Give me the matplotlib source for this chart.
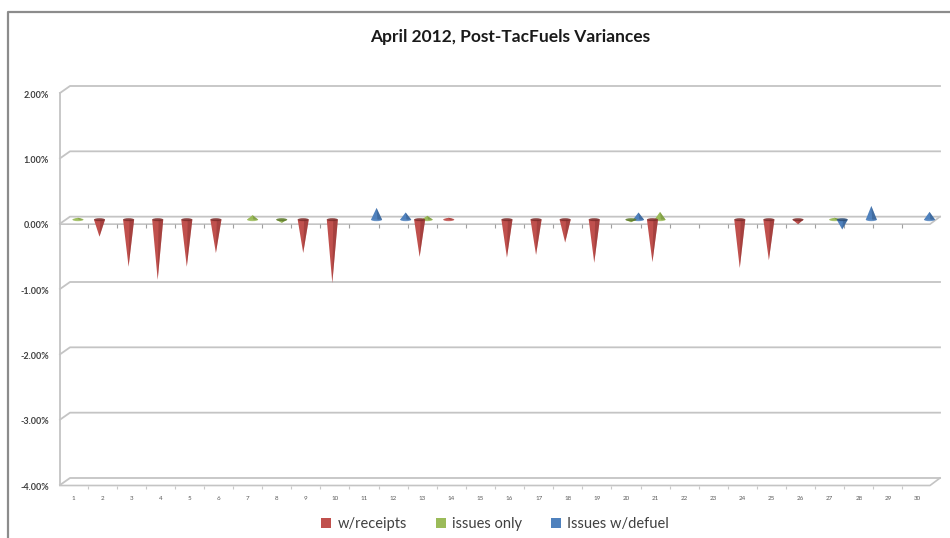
import matplotlib
matplotlib.use("Agg")
import matplotlib.pyplot as plt
from matplotlib.patches import Polygon, Ellipse, Patch
from matplotlib.lines import Line2D
from matplotlib.transforms import ScaledTranslation
import numpy as np

plt.rcParams['font.family'] = ['Lato', 'DejaVu Sans']

# data, in percent
days = list(range(1, 31))
w_receipts = [0, -0.26, -0.72, -0.92, -0.72, -0.51, 0, 0, -0.51, -0.97,
              0, 0, -0.57, 0.03, 0, -0.58, -0.54, -0.35, -0.66, 0,
              -0.65, 0, 0, -0.74, -0.62, -0.07, 0, 0, 0, 0]
issues_only = [0.03, 0, 0, 0, 0, 0, 0.07, -0.05, 0, 0,
               0, 0, 0.06, 0, 0, 0, 0, 0, 0, -0.04,
               0.12, 0, 0, 0, 0, 0, 0.03, 0, 0, 0]
issues_defuel = [0, 0, 0, 0, 0, 0, 0, 0, 0, 0,
                 0.18, 0.11, 0, 0, 0, 0, 0, 0, 0, 0.11,
                 0, 0, 0, 0, 0, 0, -0.15, 0.21, 0, 0.12]
y_ticks = [2, 1, 0, -1, -2, -3, -4]

series = [("w/receipts", w_receipts, "#C0504D", "#7E2C2A", -0.09),
          ("issues only", issues_only, "#9BBB59", "#5E7A2C", 0.17),
          ("Issues w/defuel", issues_defuel, "#4F81BD", "#2C4D75", 0.43)]

W, H = 950, 538
fig = plt.figure(figsize=(9.5, 5.38), dpi=100)
ax = fig.add_axes([70 / W, 1 - 478 / H, 870 / W, 392 / H])
ax.set_xlim(0.897, 30.79)
ax.set_ylim(-4, 2)
ax.axis('off')

PX_X = (30.79 - 0.897) / 870.0
PX_Y = 6.0 / 392.0
x0, x1 = ax.get_xlim()
grid_c = "#C4C4C4"

# back-wall gridlines, left jog and labels
for v in y_ticks:
    ax.plot([x0 - 10 * PX_X, x0, x1], [v - 7 * PX_Y, v, v], color=grid_c,
            lw=1.3, clip_on=False, zorder=1)
    ax.text(x0 - 21 * PX_X, v - 9 * PX_Y, f"{v:.2f}%", ha='right', va='center',
            fontsize=6.5, fontweight='bold', color='#404040')
# left wall
ax.plot([x0 - 10 * PX_X] * 2, [2 - 7 * PX_Y, -4 - 7 * PX_Y], color=grid_c, lw=1.3,
        clip_on=False, zorder=1)

# front edge of the zero plane and the floor
for v in (0, -4):
    ax.plot([x0 - 10 * PX_X, x1 - 10 * PX_X, x1], [v - 7.5 * PX_Y, v - 7.5 * PX_Y, v],
            color=grid_c, lw=1.2, clip_on=False, zorder=1)
ax.vlines(np.arange(1.5, 30.5, 1), -11.5 * PX_Y, -7.5 * PX_Y, color="#A0A0A0", lw=0.8)
ax.vlines(np.arange(1.5, 30.5, 1), -4 - 11 * PX_Y, -4 - 7.5 * PX_Y, color="#C8C8C8", lw=0.8,
          clip_on=False)

# category labels
for d in days:
    ax.text(d, -4 - 20 * PX_Y, str(d), ha='center', va='center', fontsize=4.5,
            color='#595959')

# cones
shift = ax.transData + ScaledTranslation(0, -3 / 100, fig.dpi_scale_trans)
w = 0.38
for name, vals, col, dark, off in series:
    for d, v in zip(days, vals):
        if v == 0:
            continue
        x = d + off
        ax.add_patch(Polygon([(x - w / 2, 0), (x + w / 2, 0), (x, v)], closed=True,
                             fc=col, ec='none', transform=shift, zorder=3))
        ax.add_patch(Polygon([(x + w * 0.08, 0), (x + w / 2, 0), (x, v)], closed=True,
                             fc=dark, ec='none', alpha=0.4, transform=shift, zorder=3))
        ax.add_patch(Ellipse((x, 0), w, 3 * PX_Y, fc=dark if v < 0 else col,
                             ec='none', alpha=0.85, transform=shift,
                             zorder=4 if v < 0 else 2))

fig.text(510 / W, 1 - 37 / H, "April 2012, Post-TacFuels Variances", ha='center',
         va='center', fontsize=12.5, fontweight='bold', color='#1A1A1A')

handles = [Patch(fc=c, ec='none') for _, _, c, _, _ in series]
fig.legend(handles, [s[0] for s in series], loc='center',
           bbox_to_anchor=(495 / W, 1 - 524 / H), ncol=3, frameon=False, fontsize=10.5,
           handlelength=0.7, handleheight=0.7, handletextpad=0.4, columnspacing=2.0,
           labelcolor='#404040')

# chart frame
fig.add_artist(Line2D([8 / W, 8 / W, 1], [0, 1 - 12 / H, 1 - 12 / H],
                      transform=fig.transFigure, color='#8C8C8C', lw=1.6))

fig.savefig("out.png", dpi=100)
